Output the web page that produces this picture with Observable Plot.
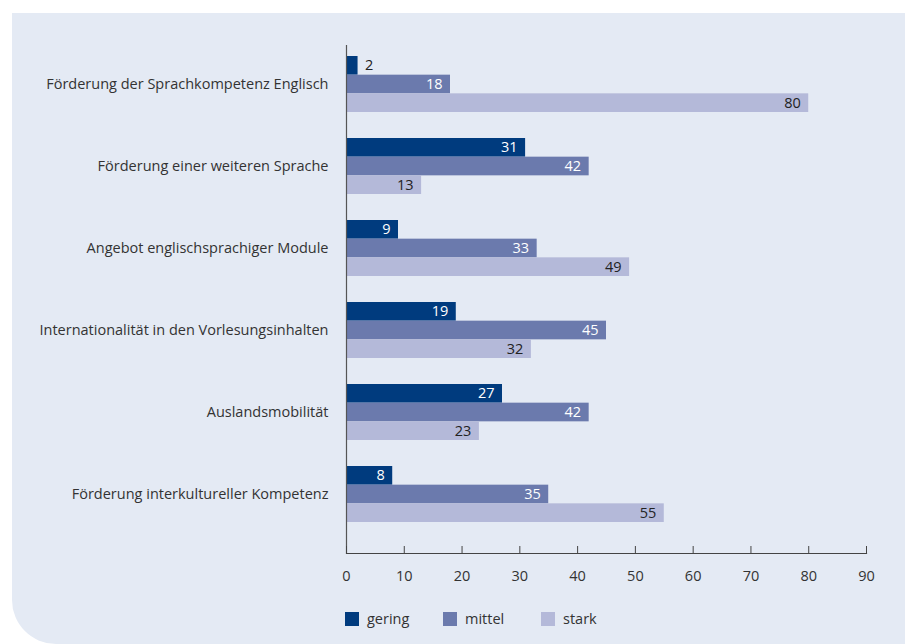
<!DOCTYPE html>
<html>
<head>
<meta charset="utf-8">
<script src="https://cdn.jsdelivr.net/npm/d3@7"></script>
<script src="https://cdn.jsdelivr.net/npm/@observablehq/plot@0.6"></script>
<style>
  html, body { margin: 0; padding: 0; background: #ffffff; }
  #wrap { position: relative; width: 905px; height: 644px; overflow: hidden; font-family: "Open Sans", sans-serif; }
  #panel { position: absolute; left: 12px; top: 13px; right: 0; bottom: 0; background: #e4eaf4; border-bottom-left-radius: 44px; }
  #chart { position: absolute; left: 0; top: 0; }
  #legend { position: absolute; left: 345px; top: 609px; display: flex; font-size: 14.5px; color: #333; }
  .item { display: flex; align-items: center; margin-right: 0; }
  .sw { width: 14px; height: 14px; margin-right: 8px; }
</style>
</head>
<body>
<div id="wrap">
  <div id="panel"></div>
  <div id="chart"></div>
  <div id="legend"></div>
</div>
<script>
const categories = [
  "Förderung der Sprachkompetenz Englisch",
  "Förderung einer weiteren Sprache",
  "Angebot englischsprachiger Module",
  "Internationalität in den Vorlesungsinhalten",
  "Auslandsmobilität",
  "Förderung interkultureller Kompetenz"
];
const seriesNames = ["gering", "mittel", "stark"];
const gering = [2, 31, 9, 19, 27, 8];
const mittel = [18, 42, 33, 45, 42, 35];
const stark  = [80, 13, 49, 32, 23, 55];
const xTicks = [0, 10, 20, 30, 40, 50, 60, 70, 80, 90];
const colors = ["#003b7e", "#6b7aad", "#b4b9d9"];
const textColors = ["#ffffff", "#ffffff", "#222222"];

const values = [gering, mittel, stark];
const rows = categories.flatMap((c, i) => seriesNames.map((s, j) => ({cat: c, series: s, j, value: values[j][i]})));

const W = 905, H = 600, mTop = 45, mBottom = 47, mLeft = 346, mRight = 39;
const pIn = 26 / 82, pOut = 0.256, align = 0.262;
const step = (H - mTop - mBottom) / (categories.length - pIn + 2 * pOut);
const bw = step * (1 - pIn);
const bh = bw / 3;

const marks = [];
seriesNames.forEach((s, j) => {
  const d = rows.filter(r => r.j === j);
  marks.push(Plot.barX(d, {
    y: "cat", x: "value", fill: colors[j],
    insetTop: j * bh, insetBottom: (2 - j) * bh
  }));
  marks.push(Plot.text(d.filter(r => r.value >= 5), {
    y: "cat", x: "value", text: r => String(r.value),
    dy: (j - 1) * bh, dx: -8, textAnchor: "end", fill: textColors[j], fontSize: 14.5
  }));
  marks.push(Plot.text(d.filter(r => r.value < 5), {
    y: "cat", x: "value", text: r => String(r.value),
    dy: (j - 1) * bh, dx: 7, textAnchor: "start", fill: "#222222", fontSize: 14.5
  }));
});

const chart = Plot.plot({
  width: W, height: H,
  marginTop: mTop, marginBottom: mBottom, marginLeft: mLeft, marginRight: mRight,
  style: {background: "transparent", fontFamily: "'Open Sans', sans-serif", fontSize: "14.5px", color: "#333"},
  x: {domain: [0, 90], label: null},
  y: {domain: categories, paddingInner: pIn, paddingOuter: pOut, align, label: null},
  marks: [
    ...marks,
    Plot.ruleX([0], {stroke: "#555", strokeWidth: 1.2}),
    Plot.frame({anchor: "bottom", stroke: "#444", strokeWidth: 1.2}),
    Plot.axisY({tickSize: 0, tickPadding: 18, fontSize: 14.5, fill: "#333"}),
    Plot.axisX({ticks: xTicks, tickSize: 0, tickPadding: 17, fontSize: 14.5, fill: "#333"}),
    Plot.axisX({ticks: xTicks, tickSize: 7, dy: -7, tickFormat: () => "", stroke: "#444"})
  ]
});
document.getElementById("chart").appendChild(chart);

const legend = document.getElementById("legend");
const legendGaps = [98, 98, 0];
seriesNames.forEach((s, j) => {
  const it = document.createElement("div");
  it.className = "item";
  it.style.width = j < 2 ? legendGaps[j] + "px" : "auto";
  it.innerHTML = `<div class="sw" style="background:${colors[j]}"></div><span>${s}</span>`;
  legend.appendChild(it);
});
</script>
</body>
</html>
